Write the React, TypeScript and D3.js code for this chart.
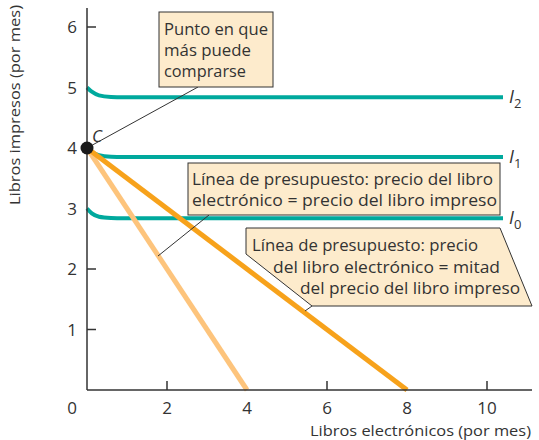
import React from "react";
import * as d3 from "d3";

const xTicks = [0, 2, 4, 6, 8, 10];
const yTicks = [1, 2, 3, 4, 5, 6];

const curveI2: [number, number][] = [[0, 5], [0.12, 4.93], [0.3, 4.87], [0.6, 4.845], [0.9, 4.84], [10.4, 4.84]];
const curveI1: [number, number][] = [[0, 4], [0.12, 3.93], [0.3, 3.88], [0.6, 3.855], [0.9, 3.85], [10.4, 3.85]];
const curveI0: [number, number][] = [[0, 3], [0.12, 2.92], [0.3, 2.865], [0.6, 2.845], [0.9, 2.84], [10.4, 2.84]];
const curveLabels = ["2", "1", "0"];

const budgetEqual: [number, number][] = [[0, 4], [4, 0]];
const budgetHalf: [number, number][] = [[0, 4], [8, 0]];
const pointC: [number, number] = [0, 4];

const callout1Lines = ["Punto en que", "más puede", "comprarse"];
const callout2Lines = ["Línea de presupuesto: precio del libro", "electrónico = precio del libro impreso"];
const callout3Lines = ["Línea de presupuesto: precio", "del libro electrónico = mitad", "del precio del libro impreso"];

const TEAL = "#00a99d";
const ORANGE = "#f7a21b";
const LIGHT_ORANGE = "#fdc47c";
const FILL = "#fdebcc";
const INK = "#333";
const FONT = "'Open Sans', 'DejaVu Sans', sans-serif";

export default function App() {
  const x = d3.scaleLinear().domain([0, 10]).range([87, 487]);
  const y = d3.scaleLinear().domain([0, 6]).range([390, 27]);
  const curve = d3.line<[number, number]>().x(d => x(d[0])).y(d => y(d[1])).curve(d3.curveMonotoneX);
  const straight = d3.line<[number, number]>().x(d => x(d[0])).y(d => y(d[1]));
  const curves = [curveI2, curveI1, curveI0];

  const c3 = [[246, 228], [500, 228], [532, 306], [312, 306], [246, 254]];
  const c1Len = [104, 87, 82];
  const c2Len = [301, 305];
  const c3Len = [226, 227, 220];

  return (
    <svg width={539} height={440} style={{ position: "absolute", left: 0, top: 0 }} fontFamily={FONT}>
      <rect width={539} height={440} fill="#fff" />
      {/* indifference curves */}
      {curves.map((c, i) => (
        <g key={i}>
          <path d={curve(c) || ""} fill="none" stroke={TEAL} strokeWidth={4} />
          <text x={x(10.4) + 6} y={y(c[c.length - 1][1]) + 6} fontSize={18} fill={INK} fontStyle="italic">
            I
            <tspan fontSize={13} fontStyle="normal" dy={5}>{curveLabels[i]}</tspan>
          </text>
        </g>
      ))}
      {/* budget lines */}
      <path d={straight(budgetEqual) || ""} fill="none" stroke={LIGHT_ORANGE} strokeWidth={5} />
      <path d={straight(budgetHalf) || ""} fill="none" stroke={ORANGE} strokeWidth={5} />

      {/* axes */}
      <line x1={87} y1={8} x2={87} y2={390} stroke={INK} strokeWidth={1.5} />
      <line x1={87} y1={390} x2={532} y2={390} stroke={INK} strokeWidth={1.5} />
      {yTicks.map(t => (
        <g key={"y" + t}>
          {t !== 4 && t !== 3 && t !== 5 && <line x1={87} x2={96} y1={y(t)} y2={y(t)} stroke={INK} strokeWidth={1.5} />}
          <text x={77} y={y(t) + 6} fontSize={17} textAnchor="end" fill={INK}>{t}</text>
        </g>
      ))}
      {xTicks.map(t => (
        <g key={"x" + t}>
          {t !== 0 && t !== 4 && t !== 8 && <line x1={x(t)} x2={x(t)} y1={390} y2={381} stroke={INK} strokeWidth={1.5} />}
          <text x={t === 0 ? 72 : x(t)} y={414} fontSize={17} textAnchor="middle" fill={INK}>{t}</text>
        </g>
      ))}
      <text transform="translate(20,105) rotate(-90)" fontSize={15} textAnchor="middle" fill={INK} textLength={200} lengthAdjust="spacingAndGlyphs">Libros impresos (por mes)</text>
      <text x={310} y={436} fontSize={15} fill={INK} textLength={221} lengthAdjust="spacingAndGlyphs">Libros electrónicos (por mes)</text>

      {/* leader lines */}
      <line x1={x(pointC[0])} y1={y(pointC[1])} x2={198} y2={87} stroke={INK} strokeWidth={1} />
      <line x1={158} y1={256} x2={209} y2={215} stroke={INK} strokeWidth={1} />

      {/* point C */}
      <circle cx={x(pointC[0])} cy={y(pointC[1])} r={6.5} fill="#1a1a1a" />
      <text x={92} y={142} fontSize={17} fontStyle="italic" fill={INK}>C</text>

      {/* callout 1 */}
      <rect x={159} y={12} width={114} height={75} fill={FILL} stroke={INK} strokeWidth={1} />
      {callout1Lines.map((l, i) => (
        <text key={i} x={164} y={35 + i * 21} fontSize={16} fill={INK} textLength={c1Len[i]} lengthAdjust="spacingAndGlyphs">{l}</text>
      ))}

      {/* callout 2 */}
      <rect x={188} y={163} width={312} height={52} fill={FILL} stroke={INK} strokeWidth={1} />
      {callout2Lines.map((l, i) => (
        <text key={i} x={192} y={185 + i * 21} fontSize={16} fill={INK} textLength={c2Len[i]} lengthAdjust="spacingAndGlyphs">{l}</text>
      ))}

      {/* callout 3 */}
      <polygon points={c3.map(p => p.join(",")).join(" ")} fill={FILL} stroke={INK} strokeWidth={1} />
      <line x1={312} y1={306} x2={305} y2={311} stroke={INK} strokeWidth={1} />
      {callout3Lines.map((l, i) => (
        <text key={i} x={[252, 273, 300][i]} y={251 + i * 21.5} fontSize={16} fill={INK} textLength={c3Len[i]} lengthAdjust="spacingAndGlyphs">{l}</text>
      ))}
    </svg>
  );
}
